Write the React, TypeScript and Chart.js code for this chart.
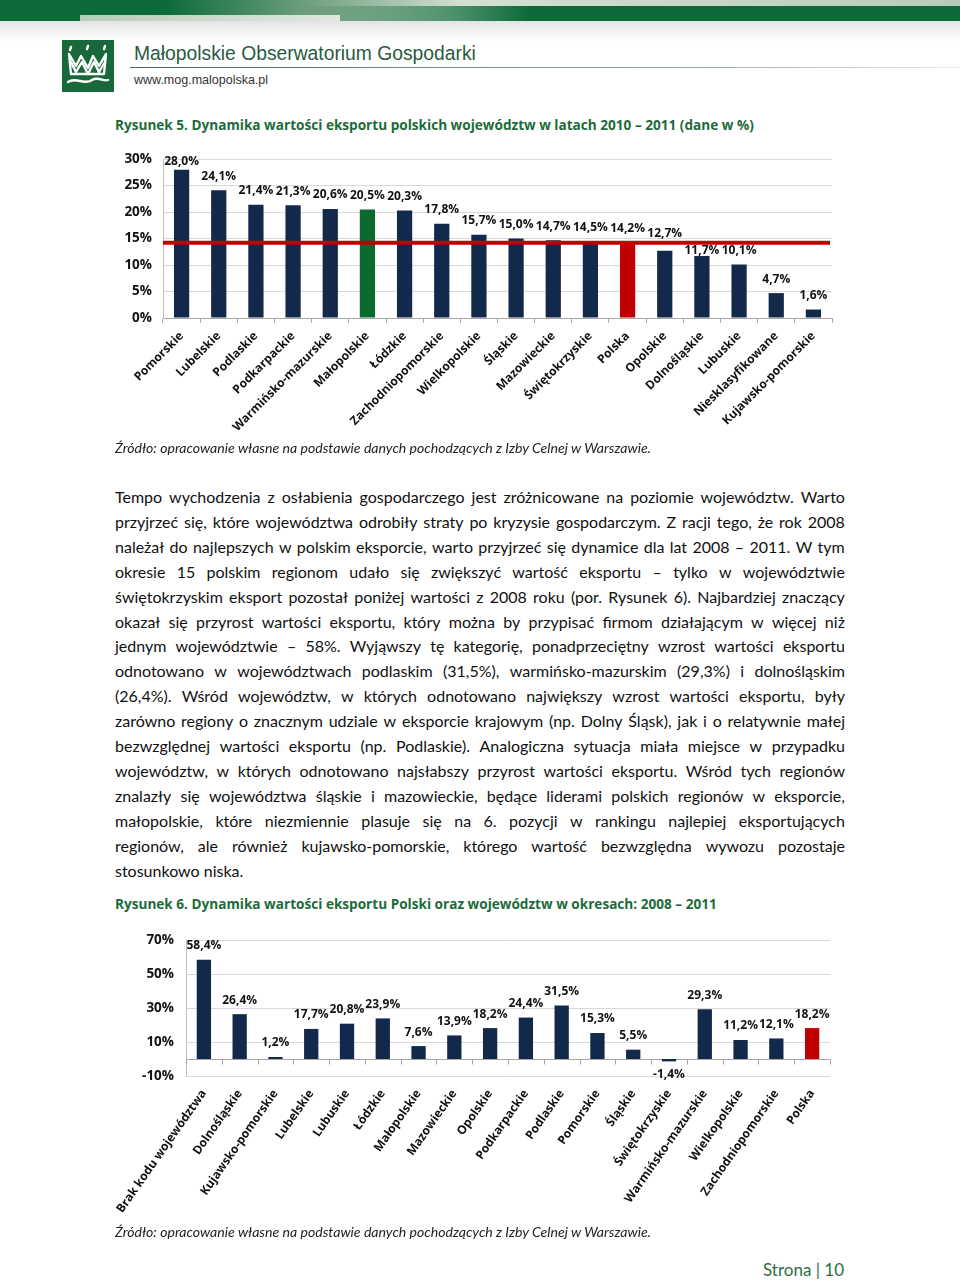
import React, { useEffect, useRef } from 'react';
import { Chart, registerables } from 'chart.js';

Chart.register(...registerables);

// ---------- DATA: Rysunek 5 (2010-2011) ----------
const regions2011: string[] = [
  'Pomorskie', 'Lubelskie', 'Podlaskie', 'Podkarpackie', 'Warmińsko-mazurskie',
  'Małopolskie', 'Łódzkie', 'Zachodniopomorskie', 'Wielkopolskie', 'Śląskie',
  'Mazowieckie', 'Świętokrzyskie', 'Polska', 'Opolskie', 'Dolnośląskie',
  'Lubuskie', 'Niesklasyfikowane', 'Kujawsko-pomorskie',
];
const growth2011: number[] = [
  28.0, 24.1, 21.4, 21.3, 20.6, 20.5, 20.3, 17.8, 15.7, 15.0,
  14.7, 14.5, 14.2, 12.7, 11.7, 10.1, 4.7, 1.6,
];
const polandAverage2011 = 14.2;
const yTicks2011: number[] = [0, 5, 10, 15, 20, 25, 30];

// ---------- DATA: Rysunek 6 (2008-2011) ----------
const regions2008: string[] = [
  'Brak kodu województwa', 'Dolnośląskie', 'Kujawsko-pomorskie', 'Lubelskie', 'Lubuskie',
  'Łódzkie', 'Małopolskie', 'Mazowieckie', 'Opolskie', 'Podkarpackie',
  'Podlaskie', 'Pomorskie', 'Śląskie', 'Świętokrzyskie', 'Warmińsko-mazurskie',
  'Wielkopolskie', 'Zachodniopomorskie', 'Polska',
];
const growth2008: number[] = [
  58.4, 26.4, 1.2, 17.7, 20.8, 23.9, 7.6, 13.9, 18.2, 24.4,
  31.5, 15.3, 5.5, -1.4, 29.3, 11.2, 12.1, 18.2,
];
const yTicks2008: number[] = [-10, 10, 30, 50, 70];

// ---------- STYLE ----------
const NAVY = '#13294b';
const RED = '#c00000';
const GREEN_BAR = '#0b6a2d';
const TITLE_GREEN = '#1d6b3a';
const FONT = 'Lato, "Open Sans", sans-serif';
const BFONT = '"Open Sans", Lato, sans-serif';

const fmt = (v: number) => v.toFixed(1).replace('.', ',') + '%';

const barColor = (name: string) =>
  name === 'Polska' ? RED : name === 'Małopolskie' ? GREEN_BAR : NAVY;

const makeValueLabels = (avoidValue: number | null) => ({
  id: 'valueLabels',
  afterDatasetsDraw(chart: any) {
    const { ctx, chartArea } = chart;
    const meta = chart.getDatasetMeta(0);
    const data = chart.data.datasets[0].data as number[];
    const lineY = avoidValue === null ? null : chart.scales.y.getPixelForValue(avoidValue);
    ctx.save();
    ctx.font = `bold 12px ${BFONT}`;
    ctx.fillStyle = '#111';
    ctx.textAlign = 'center';
    ctx.textBaseline = 'middle';
    const h = 10;
    meta.data.forEach((bar: any, i: number) => {
      const v = data[i];
      let cy: number;
      if (v >= 0) {
        cy = Math.max(bar.y - 14, chartArea.top + 2);
        if (lineY !== null) {
          const top = cy - h / 2, bottom = cy + h / 2;
          const lTop = lineY - 2, lBot = lineY + 2;
          if (bottom > lTop && top < lBot) {
            const gap = bar.y - lBot;
            cy = gap >= h ? lBot + 6 : lTop - 7;
          }
        }
      } else {
        cy = bar.y + 13;
      }
      ctx.fillText(fmt(v), bar.x, cy);
    });
    ctx.restore();
  },
});

const averageLine = {
  id: 'averageLine',
  afterDatasetsDraw(chart: any) {
    const { ctx, chartArea } = chart;
    const y = chart.scales.y.getPixelForValue(polandAverage2011);
    ctx.save();
    ctx.strokeStyle = RED;
    ctx.lineWidth = 4;
    ctx.beginPath();
    ctx.moveTo(chartArea.left, y);
    ctx.lineTo(chartArea.right - 2, y);
    ctx.stroke();
    ctx.restore();
  },
};

const zeroAxis = {
  id: 'zeroAxis',
  beforeDatasetsDraw(chart: any) {
    const { ctx, chartArea } = chart;
    const y0 = Math.round(chart.scales.y.getPixelForValue(0)) + 0.5;
    const n = chart.data.labels.length;
    const w = (chartArea.right - chartArea.left) / n;
    ctx.save();
    ctx.strokeStyle = '#a6a6a6';
    ctx.lineWidth = 1;
    ctx.beginPath();
    ctx.moveTo(chartArea.left, y0);
    ctx.lineTo(chartArea.right, y0);
    for (let i = 0; i <= n; i++) {
      const x = Math.round(chartArea.left + i * w) + 0.5;
      ctx.moveTo(x, y0);
      ctx.lineTo(x, y0 + 5);
    }
    ctx.stroke();
    ctx.restore();
  },
};

const tickFont = { family: BFONT, size: 13.5, weight: 'bold' };

const fixX = (h: number) => (s: any) => {
  s.height = h;
  s.paddingLeft = 0;
  s.paddingRight = 0;
};

function BarChart1() {
  const ref = useRef<HTMLCanvasElement>(null);
  useEffect(() => {
    const chart = new Chart(ref.current!, {
      type: 'bar',
      data: {
        labels: regions2011,
        datasets: [{
          data: growth2011,
          backgroundColor: regions2011.map(barColor),
          barPercentage: 0.82,
          categoryPercentage: 0.5,
        }],
      },
      options: {
        responsive: false,
        animation: false,
        layout: { padding: { top: 12, right: 28, left: 0, bottom: 0 } },
        plugins: { legend: { display: false }, tooltip: { enabled: false } },
        scales: {
          y: {
            min: 0, max: 30,
            afterBuildTicks: (s: any) => { s.ticks = yTicks2011.map((v) => ({ value: v })); },
            afterFit: (s: any) => { s.width = 63; },
            grid: { color: '#d9d9d9', drawTicks: false },
            border: { color: '#bfbfbf' },
            ticks: { padding: 11, color: '#111', font: tickFont, callback: (v: any) => v + '%' },
          },
          x: {
            afterFit: fixX(122),
            grid: { offset: true, drawOnChartArea: false, color: '#a6a6a6', tickLength: 5 },
            border: { color: '#a6a6a6' },
            ticks: {
              minRotation: 45, maxRotation: 45, autoSkip: false, padding: 6,
              color: '#111', font: { family: BFONT, size: 12, weight: 'bold' },
            },
          },
        },
      } as any,
      plugins: [averageLine, makeValueLabels(polandAverage2011)],
    });
    return () => chart.destroy();
  }, []);
  return <canvas ref={ref} width={760} height={300}
    style={{ position: 'absolute', left: 100, top: 140, width: 760, height: 300 }} />;
}

function BarChart2() {
  const ref = useRef<HTMLCanvasElement>(null);
  useEffect(() => {
    const chart = new Chart(ref.current!, {
      type: 'bar',
      data: {
        labels: regions2008,
        datasets: [{
          data: growth2008,
          backgroundColor: regions2008.map((n) => (n === 'Polska' ? RED : NAVY)),
          barPercentage: 0.8,
          categoryPercentage: 0.5,
        }],
      },
      options: {
        responsive: false,
        animation: false,
        layout: { padding: { top: 12, right: 30, left: 0, bottom: 0 } },
        plugins: { legend: { display: false }, tooltip: { enabled: false } },
        scales: {
          y: {
            min: -10, max: 70,
            afterBuildTicks: (s: any) => { s.ticks = yTicks2008.map((v) => ({ value: v })); },
            afterFit: (s: any) => { s.width = 86; },
            grid: { color: '#d9d9d9', drawTicks: false },
            border: { color: '#bfbfbf' },
            ticks: { padding: 12, color: '#111', font: tickFont, callback: (v: any) => v + '%' },
          },
          x: {
            afterFit: fixX(154),
            grid: { display: false },
            border: { display: false },
            ticks: {
              minRotation: 55, maxRotation: 55, autoSkip: false, padding: 3,
              color: '#111', font: { family: BFONT, size: 12, weight: 'bold' },
            },
          },
        },
      } as any,
      plugins: [zeroAxis, makeValueLabels(null)],
    });
    return () => chart.destroy();
  }, []);
  return <canvas ref={ref} width={760} height={310}
    style={{ position: 'absolute', left: 100, top: 920, width: 760, height: 310 }} />;
}

const paragraphLines: string[] = [
  'Tempo wychodzenia z osłabienia gospodarczego jest zróżnicowane na poziomie województw. Warto',
  'przyjrzeć się, które województwa odrobiły straty po kryzysie gospodarczym. Z racji tego, że rok 2008',
  'należał do najlepszych w polskim eksporcie, warto przyjrzeć się dynamice dla lat 2008 – 2011. W tym',
  'okresie 15 polskim regionom udało się zwiększyć wartość eksportu – tylko w województwie',
  'świętokrzyskim eksport pozostał poniżej wartości z 2008 roku (por. Rysunek 6). Najbardziej znaczący',
  'okazał się przyrost wartości eksportu, który można by przypisać firmom działającym w więcej niż',
  'jednym województwie – 58%. Wyjąwszy tę kategorię, ponadprzeciętny wzrost wartości eksportu',
  'odnotowano w województwach podlaskim (31,5%), warmińsko-mazurskim (29,3%) i dolnośląskim',
  '(26,4%). Wśród województw, w których odnotowano największy wzrost wartości eksportu, były',
  'zarówno regiony o znacznym udziale w eksporcie krajowym (np. Dolny Śląsk), jak i o relatywnie małej',
  'bezwzględnej wartości eksportu (np. Podlaskie). Analogiczna sytuacja miała miejsce w przypadku',
  'województw, w których odnotowano najsłabszy przyrost wartości eksportu. Wśród tych regionów',
  'znalazły się województwa śląskie i mazowieckie, będące liderami polskich regionów w eksporcie,',
  'małopolskie, które niezmiennie plasuje się na 6. pozycji w rankingu najlepiej eksportujących',
  'regionów, ale również kujawsko-pomorskie, którego wartość bezwzględna wywozu pozostaje',
  'stosunkowo niska.',
];

function Header() {
  return (
    <>
      <div style={{ position: 'absolute', left: 0, top: 0, width: 960, height: 21,
        background: 'linear-gradient(to right, #0b6a38 0%, #0b6a38 17%, #6f9f7c 32%, #d3e0d2 48%, #c9d8c8 70%, #b8cbb8 100%)' }} />
      <div style={{ position: 'absolute', left: 300, top: 6, width: 660, height: 15,
        background: 'linear-gradient(to right, rgba(11,106,56,0) 0%, #0b6a38 35%, #0b6a38 100%)' }} />
      <div style={{ position: 'absolute', left: 80, top: 15, width: 260, height: 6,
        background: 'linear-gradient(to right, #b7ccb9, #dfe8de)' }} />
      <div style={{ position: 'absolute', left: 0, top: 21, width: 960, height: 20,
        background: 'linear-gradient(to bottom, #e2e4e2, #ffffff)' }} />
      <svg style={{ position: 'absolute', left: 62, top: 40 }} width={52} height={52}>
        <rect x={0} y={0} width={52} height={52} fill="#17693a" />
        <g fill="none" stroke="#fff" strokeWidth={2.4} strokeLinejoin="round" strokeLinecap="round">
          <path d="M8 10 l1 -3 M25 9 l1 -3 M42 9 l1 -3" />
          <path d="M7 14 L14 26 L19 16 L26 28 L31 16 L37 26 L44 14 L42 34 L9 34 Z" />
          <path d="M9 22 L14 32 L20 22 L26 34 L32 22 L37 32 L43 22" />
          <path d="M6 42 C14 36 22 46 30 40 C36 36 42 42 46 40" />
        </g>
      </svg>
      <div style={{ position: 'absolute', left: 134, top: 42, fontFamily: '"Liberation Sans", Arial, sans-serif',
        fontSize: 19.3, color: '#2a5a3f', whiteSpace: 'nowrap', lineHeight: '24px' }}>
        Małopolskie Obserwatorium Gospodarki
      </div>
      <div style={{ position: 'absolute', left: 130, top: 67, width: 830, height: 1,
        background: 'linear-gradient(to right, #466a55, #9bb0a2 70%, #e8ece9)' }} />
      <div style={{ position: 'absolute', left: 134, top: 72, fontFamily: '"Liberation Sans", Arial, sans-serif',
        fontSize: 12.5, color: '#333', whiteSpace: 'nowrap', lineHeight: '16px' }}>
        www.mog.malopolska.pl
      </div>
    </>
  );
}

export default function App() {
  const titleStyle: React.CSSProperties = {
    position: 'absolute', left: 115, fontFamily: BFONT, fontWeight: 700, fontSize: 13.6,
    color: TITLE_GREEN, whiteSpace: 'nowrap', lineHeight: '20px',
  };
  const sourceStyle: React.CSSProperties = {
    position: 'absolute', left: 115, fontFamily: FONT, fontStyle: 'italic', fontSize: 14.1,
    color: '#222', whiteSpace: 'nowrap', lineHeight: '18px',
  };
  return (
    <div style={{ position: 'absolute', left: 0, top: 0, width: 960, height: 1282,
      overflow: 'hidden', background: '#fff' }}>
      <Header />
      <div style={{ ...titleStyle, top: 115 }}>
        Rysunek 5. Dynamika wartości eksportu polskich województw w latach 2010 – 2011 (dane w %)
      </div>
      <BarChart1 />
      <div style={{ ...sourceStyle, top: 439 }}>
        Źródło: opracowanie własne na podstawie danych pochodzących z Izby Celnej w Warszawie.
      </div>
      <div style={{ position: 'absolute', left: 115, top: 485, width: 730, fontFamily: FONT,
        fontSize: 16, lineHeight: '24.9px', color: '#111' }}>
        {paragraphLines.map((line, i) =>
          i < paragraphLines.length - 1 ? (
            <div key={i} style={{ display: 'flex', justifyContent: 'space-between', whiteSpace: 'nowrap' }}>
              {line.split(' ').map((w, j) => <span key={j}>{w}</span>)}
            </div>
          ) : (
            <div key={i} style={{ whiteSpace: 'nowrap' }}>{line}</div>
          )
        )}
      </div>
      <div style={{ ...titleStyle, top: 894 }}>
        Rysunek 6. Dynamika wartości eksportu Polski oraz województw w okresach: 2008 – 2011
      </div>
      <BarChart2 />
      <div style={{ ...sourceStyle, top: 1223 }}>
        Źródło: opracowanie własne na podstawie danych pochodzących z Izby Celnej w Warszawie.
      </div>
      <div style={{ position: 'absolute', left: 763, top: 1259, fontFamily: FONT, fontSize: 17,
        color: '#2c6e45', whiteSpace: 'nowrap', lineHeight: '22px' }}>
        Strona | 10
      </div>
    </div>
  );
}
